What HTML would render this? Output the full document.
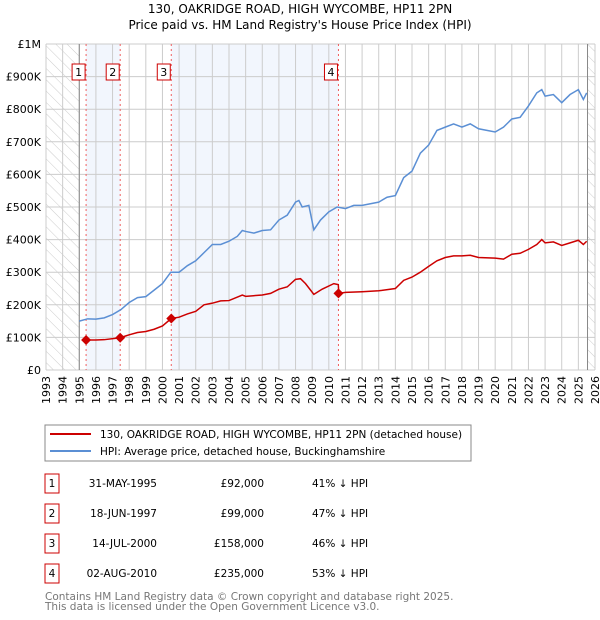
<!DOCTYPE html>
<html><head><meta charset="utf-8"><style>
body{margin:0;background:#fff;font-family:"DejaVu Sans","Liberation Sans",sans-serif;}
svg{display:block}
</style></head><body>
<svg id="c" width="600" height="620" xmlns="http://www.w3.org/2000/svg" font-family="DejaVu Sans, Liberation Sans, sans-serif">
<defs><pattern id="hatch" width="8" height="8" patternUnits="userSpaceOnUse" patternTransform="rotate(-45)"><line x1="0" y1="0" x2="0" y2="8" stroke="#ccc" stroke-width="1"/></pattern></defs>
<text x="300" y="13" text-anchor="middle" font-size="12">130, OAKRIDGE ROAD, HIGH WYCOMBE, HP11 2PN</text>
<text x="300" y="29" text-anchor="middle" font-size="12">Price paid vs. HM Land Registry's House Price Index (HPI)</text>
<g id="plot"></g>
<rect x="45" y="425" width="426" height="36" fill="#fff" stroke="#888"/>
<line x1="50" y1="434" x2="91" y2="434" stroke="#cc0000" stroke-width="2"/>
<text x="100" y="438" font-size="10.5">130, OAKRIDGE ROAD, HIGH WYCOMBE, HP11 2PN (detached house)</text>
<line x1="50" y1="451" x2="91" y2="451" stroke="#5b8fd4" stroke-width="2"/>
<text x="100" y="455" font-size="10.5">HPI: Average price, detached house, Buckinghamshire</text>
<g id="table" font-size="10.5"></g>
<text x="45" y="600" font-size="10.5" fill="#777">Contains HM Land Registry data © Crown copyright and database right 2025.</text>
<text x="45" y="610" font-size="10.5" fill="#777">This data is licensed under the Open Government Licence v3.0.</text>
</svg>
<script>
const years=[1993,1994,1995,1996,1997,1998,1999,2000,2001,2002,2003,2004,2005,2006,2007,2008,2009,2010,2011,2012,2013,2014,2015,2016,2017,2018,2019,2020,2021,2022,2023,2024,2025,2026];
const yTicks=[0,100000,200000,300000,400000,500000,600000,700000,800000,900000,1000000];
const yTickLabels=["£0","£100K","£200K","£300K","£400K","£500K","£600K","£700K","£800K","£900K","£1M"];
const saleDates=[1995.41,1997.46,2000.53,2010.58];
const salePrices=[92000,99000,158000,235000];
const saleDateLabels=["31-MAY-1995","18-JUN-1997","14-JUL-2000","02-AUG-2010"];
const salePriceLabels=["£92,000","£99,000","£158,000","£235,000"];
const saleHpiLabels=["41% ↓ HPI","47% ↓ HPI","46% ↓ HPI","53% ↓ HPI"];
const hpiT=[1995.0,1995.5,1996,1996.5,1997,1997.5,1998,1998.5,1999,1999.5,2000,2000.5,2001,2001.5,2002,2002.5,2003,2003.5,2004,2004.5,2004.8,2005,2005.5,2006,2006.5,2007,2007.5,2008,2008.2,2008.4,2008.8,2009.1,2009.5,2010,2010.5,2011,2011.5,2012,2012.5,2013,2013.5,2014,2014.5,2015,2015.5,2016,2016.5,2017,2017.5,2018,2018.5,2019,2019.5,2020,2020.5,2021,2021.5,2022,2022.5,2022.8,2023,2023.5,2024,2024.5,2025,2025.3,2025.5];
const hpiV=[150,157,156,160,170,185,207,222,225,245,265,300,300,320,335,360,385,385,395,410,428,425,420,428,430,460,475,515,520,500,505,430,460,485,500,495,505,505,510,515,530,535,590,610,665,690,735,745,755,745,755,740,735,730,745,770,775,810,850,860,840,845,820,845,860,830,850];
const ppT=[1995.41,1996,1996.5,1997.46,1998,1998.5,1999,1999.5,2000,2000.53,2001,2001.5,2002,2002.5,2003,2003.5,2004,2004.8,2005,2006,2006.5,2007,2007.5,2008,2008.3,2008.6,2009.1,2009.6,2010.3,2010.57,2010.6,2011,2012,2013,2014,2014.5,2015,2015.5,2016,2016.5,2017,2017.5,2018,2018.5,2019,2020,2020.5,2021,2021.5,2022,2022.5,2022.8,2023,2023.5,2024,2024.5,2025,2025.3,2025.5];
const ppV=[92,92,93,99,108,115,118,125,135,158,162,172,180,200,205,212,213,230,226,230,235,248,255,278,280,265,232,248,265,262,235,238,240,243,250,275,285,300,318,335,345,350,350,352,345,343,340,355,358,370,385,400,390,393,382,390,398,385,395];
const X0=46,X1=595,Y0=370,Y1=44;
const xs=t=>X0+(t-1993)/(2026-1993)*(X1-X0);
const ys=v=>Y0-v/1000000*(Y0-Y1);
const NS="http://www.w3.org/2000/svg";
const plot=document.getElementById('plot');
function mk(tag,attrs,parent){const e=document.createElementNS(NS,tag);for(const k in attrs)e.setAttribute(k,attrs[k]);(parent||plot).appendChild(e);return e;}
let e;
e=mk('rect',{x:X0,y:Y1,width:X1-X0,height:Y0-Y1,fill:'#fff'});


e=mk('rect',{x:xs(saleDates[0]),y:Y1,width:xs(saleDates[1])-xs(saleDates[0]),height:Y0-Y1,fill:'#f2f6fd'});


e=mk('rect',{x:xs(saleDates[2]),y:Y1,width:xs(saleDates[3])-xs(saleDates[2]),height:Y0-Y1,fill:'#f2f6fd'});


e=mk('rect',{x:X0,y:Y1,width:xs(1995)-X0,height:Y0-Y1,fill:'url(#hatch)'});


e=mk('rect',{x:xs(2025.55),y:Y1,width:X1-xs(2025.55),height:Y0-Y1,fill:'url(#hatch)'});


years.forEach(y=>{
 e=mk('line',{x1:xs(y),x2:xs(y),y1:Y1,y2:Y0,stroke:'#ccc','stroke-width':1});
 
 
 e=mk('text',{x:0,y:0,'font-size':11,'text-anchor':'end',transform:`translate(${xs(y)+4},${Y0+6}) rotate(-90)`});
 e.textContent=y;
 
 
});
yTicks.forEach((v,i)=>{
 e=mk('line',{x1:X0,x2:X1,y1:ys(v),y2:ys(v),stroke:'#ccc','stroke-width':1});
 
 
 e=mk('text',{x:X0-5,y:ys(v)+4,'font-size':11,'text-anchor':'end'});
 e.textContent=yTickLabels[i];
 
 
});
e=mk('line',{x1:xs(1995),x2:xs(1995),y1:Y1,y2:Y0,stroke:'#888'});


e=mk('line',{x1:xs(2025.55),x2:xs(2025.55),y1:Y1,y2:Y0,stroke:'#888'});


saleDates.forEach((d,i)=>{
 e=mk('line',{x1:xs(d),x2:xs(d),y1:Y1,y2:Y0,stroke:'#f06060','stroke-dasharray':'2,3'});
 
 
 e=mk('rect',{x:xs(d)-14,y:64,width:13,height:16,fill:'#fff',stroke:'#cc0000'});
 
 
 e=mk('text',{x:xs(d)-7.5,y:76,'font-size':11,'text-anchor':'middle'});
 e.textContent=i+1;
 
 
});
e=mk('polyline',{points:hpiT.map((t,i)=>xs(t)+','+ys(hpiV[i]*1000)).join(' '),fill:'none',stroke:'#5b8fd4','stroke-width':1.5});


e=mk('polyline',{points:ppT.map((t,i)=>xs(t)+','+ys(ppV[i]*1000)).join(' '),fill:'none',stroke:'#cc0000','stroke-width':1.5});


saleDates.forEach((d,i)=>{
 const cx=xs(d),cy=ys(salePrices[i]);
 e=mk('polygon',{points:`${cx},${cy-5} ${cx+5},${cy} ${cx},${cy+5} ${cx-5},${cy}`,fill:'#cc0000'});
 
 
});
const tb=document.getElementById('table');
saleDates.forEach((d,i)=>{
 const cy=483+i*30;
 e=mk('rect',{x:45,y:cy-9,width:14,height:19,fill:'#fff',stroke:'#cc0000'},tb);
 
 
 e=mk('text',{x:52,y:cy+4,'text-anchor':'middle'},tb);e.textContent=i+1;
 
 
 e=mk('text',{x:157,y:cy+4,'text-anchor':'end'},tb);e.textContent=saleDateLabels[i];
 
 
 e=mk('text',{x:264,y:cy+4,'text-anchor':'end'},tb);e.textContent=salePriceLabels[i];
 
 
 e=mk('text',{x:312,y:cy+4},tb);e.textContent=saleHpiLabels[i];
 
 
});
</script>
</body></html>
